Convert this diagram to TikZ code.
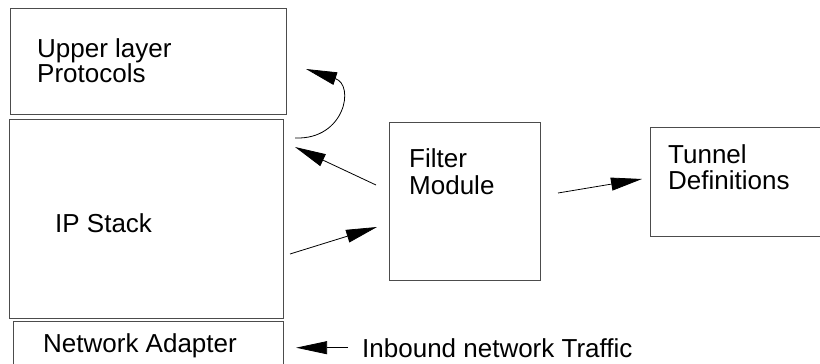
\documentclass[tikz,border=0pt]{standalone}
\usepackage{fontspec}
\setmainfont{Liberation Sans}
\usetikzlibrary{arrows.meta}

\begin{document}
\begin{tikzpicture}[x=1pt, y=-1pt,
    box/.style={draw=black!70, line width=1.1pt, rectangle, inner sep=0pt, anchor=north west},
    txt/.style={inner sep=0pt, align=left, anchor=north west, font=\fontsize{26}{26}\selectfont},
    arr/.style={draw, line width=0.8pt, -{Triangle[length=31pt,width=13pt]}}]
    \useasboundingbox (0,0) rectangle (820,364);
    \clip (0,0) rectangle (820,364);

    \node[box, minimum width=276pt, minimum height=106pt] (upper) at (10,8) {};
    \node[box, minimum width=274pt, minimum height=199pt] (ipstack) at (9,119) {};
    \node[box, minimum width=270pt, minimum height=60pt] (adapter) at (13,321) {};
    \node[box, minimum width=151pt, minimum height=158pt] (filter) at (389,122) {};
    \node[box, minimum width=180pt, minimum height=109pt] (tunnel) at (650,127) {};

    \node[txt, font=\fontsize{26}{21.5}\selectfont] (uppertext) at (37,38) {Upper layer\\Protocols};
    \node[txt, anchor=base west] (iptext) at (55,232) {IP Stack};
    \node[txt, anchor=base west] (adaptertext) at (43,352) {Network Adapter};
    \node[txt, font=\fontsize{26}{27}\selectfont] (filtertext) at (409,148) {Filter\\Module};
    \node[txt] (tunneltext) at (668,144) {Tunnel\\Definitions};
    \node[txt, anchor=base west] (inbound) at (362,357) {Inbound network Traffic};

    \coordinate (fout) at (376,185);
    \coordinate (ipin) at (295,147);
    \coordinate (ipout) at (290,254);
    \coordinate (fin) at (377,227);
    \coordinate (upstart) at (295,138);
    \coordinate (upend) at (306,69);
    \coordinate (tout) at (558,193);
    \coordinate (tin) at (642,179);

    \draw[arr] (fout) -- (ipin);
    \draw[arr] (ipout) -- (fin);
    \draw[arr] (upstart) .. controls (345,140) and (355,85) .. (upend);
    \draw[arr] (tout) -- (tin);
    \draw[arr, shorten <=14pt, shorten >=12pt] (inbound.west) -- (inbound.west -| adapter.east);
\end{tikzpicture}
\end{document}
